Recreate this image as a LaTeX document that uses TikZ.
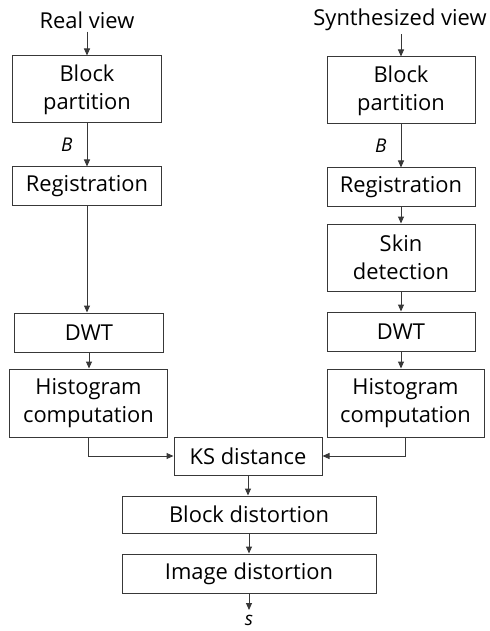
\documentclass[tikz,border=0pt]{standalone}
\usepackage{fontspec}
\setmainfont{Open Sans}
\usetikzlibrary{arrows.meta}
\definecolor{ln}{HTML}{383838}
\tikzset{
  box/.style={draw=ln, line width=1bp, inner sep=0pt, align=center, font=\fontsize{22}{28}\selectfont},
  lbl/.style={inner sep=0pt, font=\fontsize{22}{28}\selectfont},
  var/.style={inner sep=0pt, font=\fontsize{19}{20}\selectfont\itshape},
  conn/.style={draw=ln, line width=1bp, -{Triangle[length=7bp,width=6bp]}}
}
\begin{document}
\begin{tikzpicture}[x=1bp,y=-1bp]
\useasboundingbox (0,0) rectangle (490,631);
% left column
\node[lbl] (rv) at (87,20) {Real view};
\node[box, minimum width=148bp, minimum height=67bp] (bpl) at (87,89.5) {Block\\partition};
\node[box, minimum width=148bp, minimum height=38bp] (rgl) at (87,186) {Registration};
\node[box, minimum width=148bp, minimum height=39bp] (dwl) at (89,332.5) {DWT};
\node[box, minimum width=157bp, minimum height=68bp] (hil) at (88.5,403) {Histogram\\computation};
% right column
\node[lbl] (sv) at (400,20) {Synthesized view};
\node[box, minimum width=148bp, minimum height=67bp] (bpr) at (401,90.5) {Block\\partition};
\node[box, minimum width=148bp, minimum height=38bp] (rgr) at (401,187) {Registration};
\node[box, minimum width=148bp, minimum height=67bp] (skr) at (401,257.5) {Skin\\detection};
\node[box, minimum width=148bp, minimum height=39bp] (dwr) at (401,331.5) {DWT};
\node[box, minimum width=157bp, minimum height=68bp] (hir) at (405.5,403) {Histogram\\computation};
% bottom
\node[box, minimum width=148bp, minimum height=38bp] (ks) at (248,456) {KS distance};
\node[box, minimum width=254bp, minimum height=37bp] (bd) at (249,514.5) {Block distortion};
\node[box, minimum width=254bp, minimum height=39bp] (id) at (249,573.5) {Image distortion};
\coordinate (send) at (249,610);
\node[var] (s) at (249,620.5) {s};
% arrows left
\draw[conn] (rv.south -| bpl.north) ++(0,3) -- (bpl.north);
\draw[conn] (bpl) -- (rgl) node[midway, left=14bp, var] (bl) {B};
\draw[conn] (rgl.south) -- (rgl.south |- dwl.north);
\draw[conn] (dwl.south) -- (dwl.south |- hil.north);
\draw[conn] (hil.south) |- (ks.west);
% arrows right
\draw[conn] (sv.south -| bpr.north) ++(0,3) -- (bpr.north);
\draw[conn] (bpr) -- (rgr) node[midway, left=14bp, var] (br) {B};
\draw[conn] (rgr) -- (skr);
\draw[conn] (skr) -- (dwr);
\draw[conn] (dwr.south) -- (dwr.south |- hir.north);
\draw[conn] (hir.south) |- (ks.east);
% bottom arrows
\draw[conn] (ks.south) -- (ks.south |- bd.north);
\draw[conn] (bd) -- (id);
\draw[conn] (id.south) -- (send);
\end{tikzpicture}
\end{document}
